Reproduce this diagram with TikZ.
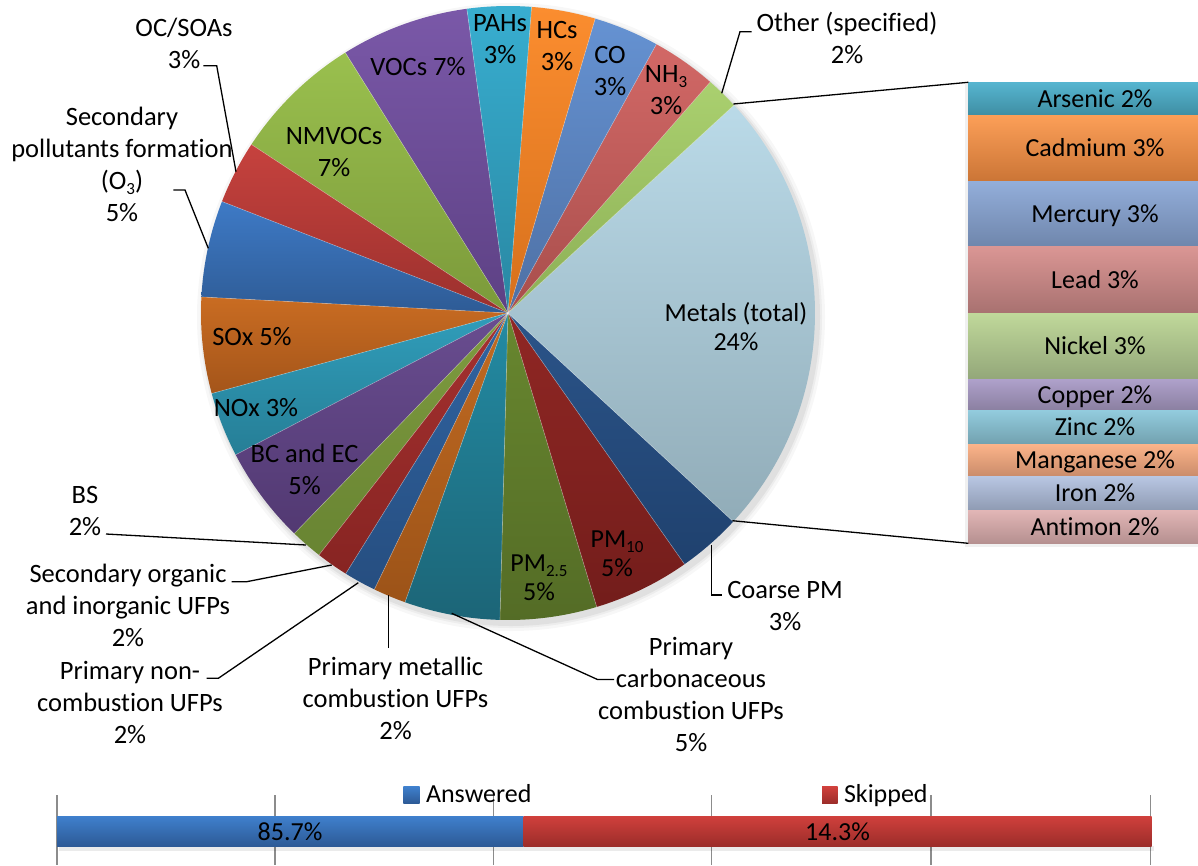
\documentclass[tikz,border=0pt]{standalone}
\usepackage{fontspec}
\setmainfont{Carlito}[Ligatures=NoCommon]
\usetikzlibrary{calc}
\newcommand\mysub[1]{\raisebox{-0.2em}{\fontsize{17}{17}\selectfont #1}}
\newcommand\pieslice[4]{%
  \shade[top color=#3,bottom color=#4] (C) -- ($(C)+(#1:307)$) arc[start angle=#1,end angle=#2,radius=307] -- cycle;}
\newcommand\metseg[6]{%
  \shade[top color=#3,bottom color=#4] (968,#1) rectangle (1198,#2);
  \node[metal] (#6) at (1095,{(#1+#2)/2+8.5}) {#5};}
\definecolor{pahT}{HTML}{38AED0}\definecolor{pahB}{HTML}{2987A2}
\definecolor{hcT}{HTML}{FB8D2F}\definecolor{hcB}{HTML}{D6701C}
\definecolor{coT}{HTML}{6592D2}\definecolor{coB}{HTML}{4E70A4}
\definecolor{nhT}{HTML}{D26866}\definecolor{nhB}{HTML}{A84E4C}
\definecolor{otT}{HTML}{AAD06F}\definecolor{otB}{HTML}{8CAF55}
\definecolor{meT}{HTML}{BADAE8}\definecolor{meB}{HTML}{91ACB8}
\definecolor{cpT}{HTML}{2B5489}\definecolor{cpB}{HTML}{1F416E}
\definecolor{p10T}{HTML}{902724}\definecolor{p10B}{HTML}{731D1B}
\definecolor{p25T}{HTML}{68872F}\definecolor{p25B}{HTML}{546C26}
\definecolor{pcT}{HTML}{238BA3}\definecolor{pcB}{HTML}{1C6577}
\definecolor{pmT}{HTML}{C26B22}\definecolor{pmB}{HTML}{9C5318}
\definecolor{pnT}{HTML}{3064A2}\definecolor{pnB}{HTML}{264E80}
\definecolor{soT}{HTML}{A53130}\definecolor{soB}{HTML}{872422}
\definecolor{bsT}{HTML}{7F9C40}\definecolor{bsB}{HTML}{688432}
\definecolor{bcT}{HTML}{694D90}\definecolor{bcB}{HTML}{523972}
\definecolor{noT}{HTML}{309DBA}\definecolor{noB}{HTML}{267E96}
\definecolor{sxT}{HTML}{C96C22}\definecolor{sxB}{HTML}{A4551A}
\definecolor{spT}{HTML}{3E7AC6}\definecolor{spB}{HTML}{2E5B95}
\definecolor{ocT}{HTML}{C6423E}\definecolor{ocB}{HTML}{9B302D}
\definecolor{nmT}{HTML}{9AC04E}\definecolor{nmB}{HTML}{7B993A}
\definecolor{voT}{HTML}{7A58A8}\definecolor{voB}{HTML}{5D4184}
\definecolor{ansT}{HTML}{3F80CD}\definecolor{ansB}{HTML}{2D5A96}
\definecolor{skT}{HTML}{D0403C}\definecolor{skB}{HTML}{9C2D2A}
\definecolor{asT}{HTML}{56B5D0}\definecolor{asB}{HTML}{3F8EA3}
\definecolor{cdT}{HTML}{FC9F58}\definecolor{cdB}{HTML}{CB7536}
\definecolor{hgT}{HTML}{93AEDA}\definecolor{hgB}{HTML}{6F86AC}
\definecolor{pbT}{HTML}{DA9694}\definecolor{pbB}{HTML}{A87170}
\definecolor{niT}{HTML}{C0D89A}\definecolor{niB}{HTML}{93A779}
\definecolor{cuT}{HTML}{AFA1CB}\definecolor{cuB}{HTML}{8A7FA0}
\definecolor{znT}{HTML}{92CBDD}\definecolor{znB}{HTML}{72A1AF}
\definecolor{mnT}{HTML}{FCB48A}\definecolor{mnB}{HTML}{C98B6A}
\definecolor{feT}{HTML}{B8C6E2}\definecolor{feB}{HTML}{8F9BB3}
\definecolor{sbT}{HTML}{E2B6B6}\definecolor{sbB}{HTML}{B59090}
\begin{document}
\begin{tikzpicture}[x=1pt,y=-1pt,
  every node/.style={inner sep=0pt,outer sep=0pt},
  lbl/.style={align=center,anchor=base,font=\fontsize{26.5}{32}\selectfont},
  lblt/.style={align=center,anchor=base,font=\fontsize{26}{29}\selectfont},
  leader/.style={line width=1.3pt,black},
  metal/.style={anchor=base,font=\fontsize{26}{32}\selectfont},
  gridline/.style={draw=black!45,line width=1.2pt},
  sep/.style={white,opacity=0.35,line width=0.6pt},
  barlbl/.style={anchor=base,font=\fontsize{26}{32}\selectfont}]
\useasboundingbox (0,0) rectangle (1198,865);
\fill[white] (0,0) rectangle (1198,865);
\coordinate (C) at (508,313);
% shadow
\foreach \r/\o in {314/0.03,311/0.04,309/0.05}{\fill[black,opacity=\o] ($(C)+(3,4)$) circle[radius=\r];}
% slices (screen angles, clockwise)
\pieslice{262.3}{238.0}{voT}{voB}
\pieslice{238.0}{213.3}{nmT}{nmB}
\pieslice{213.3}{201.3}{ocT}{ocB}
\pieslice{201.3}{183.0}{spT}{spB}
\pieslice{183.0}{164.8}{sxT}{sxB}
\pieslice{164.8}{152.5}{noT}{noB}
\pieslice{152.5}{134.1}{bcT}{bcB}
\pieslice{134.1}{128.0}{bsT}{bsB}
\pieslice{128.0}{121.9}{soT}{soB}
\pieslice{121.9}{115.8}{pnT}{pnB}
\pieslice{115.8}{109.6}{pmT}{pmB}
\pieslice{109.6}{91.5}{pcT}{pcB}
\pieslice{91.5}{73.2}{p25T}{p25B}
\pieslice{73.2}{54.9}{p10T}{p10B}
\pieslice{54.9}{42.8}{cpT}{cpB}
\pieslice{42.8}{-42.6}{meT}{meB}
\pieslice{-42.6}{-48.8}{otT}{otB}
\pieslice{-48.8}{-61.1}{nhT}{nhB}
\pieslice{-61.1}{-73.5}{coT}{coB}
\pieslice{-73.5}{-85.6}{hcT}{hcB}
\pieslice{-85.6}{-97.7}{pahT}{pahB}
\foreach \s in {262.3,238.0,213.3,201.3,183.0,164.8,152.5,134.1,128.0,121.9,115.8,109.6,91.5,73.2,54.9,42.8,-42.6,-48.8,-61.1,-73.5,-85.6}
  {\draw[sep] (C) -- ($(C)+(\s:307)$);}
% inside labels (anchor = baseline of last line)
\node[lbl] (lPAH) at (500,63) {PAHs\\3\%};
\node[lbl] (lHC) at (557,70) {HCs\\3\%};
\node[lbl] (lCO) at (610,95) {CO\\3\%};
\node[lbl] (lNH) at (666,114) {NH\mysub{3}\\3\%};
\node[lbl] (lVOC) at (418,75) {VOCs 7\%};
\node[lbl] (lNMV) at (334,176) {NMVOCs\\7\%};
\node[lbl] (lSOx) at (252,345) {SOx 5\%};
\node[lbl] (lNOx) at (256,416) {NOx 3\%};
\node[lbl] (lBC) at (304.5,494.7) {BC and EC\\5\%};
\node[lblt] (lMet) at (736,350) {Metals (total)\\24\%};
\node[lblt] (lP10) at (617,576.7) {PM\mysub{10}\\5\%};
\node[lblt] (lP25) at (539,600) {PM\mysub{2.5}\\5\%};
% outside labels
\node[lbl] (lOC) at (184,68) {OC/SOAs\\3\%};
\node[lbl] (lSP) at (122,221) {Secondary\\pollutants formation\\(O\mysub{3})\\5\%};
\node[lbl] (lBS) at (85,535) {BS\\2\%};
\node[lbl] (lSO) at (128,646.3) {Secondary organic\\and inorganic UFPs\\2\%};
\node[lbl] (lPN) at (130,743) {Primary non-\\combustion UFPs\\2\%};
\node[lbl] (lPM) at (395.5,739.7) {Primary metallic\\combustion UFPs\\2\%};
\node[lbl] (lPC) at (691,751.3) {Primary\\carbonaceous\\combustion UFPs\\5\%};
\node[lbl] (lCP) at (785,630.7) {Coarse PM\\3\%};
\node[lbl] (lOt) at (847,63) {Other (specified)\\2\%};
% leader coordinates
\coordinate (kOC) at (203.3,65.7); \coordinate (jOC) at (216.7,65.7); \coordinate (eOC) at (236,171.7);
\coordinate (kSP) at (173.3,190); \coordinate (jSP) at (185,190); \coordinate (eSP) at (208.3,248.3);
\coordinate (kBS) at (106,534); \coordinate (eBS) at (306,545);
\coordinate (kSO) at (231.7,581.7); \coordinate (jSO) at (246.7,581.7); \coordinate (eSO) at (331.7,565);
\coordinate (kPN) at (206.7,678.3); \coordinate (jPN) at (218.3,678.3); \coordinate (ePN) at (358.3,582.7);
\coordinate (kPM) at (388.3,648); \coordinate (ePM) at (388.3,595);
\coordinate (kPC) at (614,679.5); \coordinate (jPC) at (597.5,679.5); \coordinate (ePC) at (451.7,613.3);
\coordinate (kCP) at (721.7,595); \coordinate (jCP) at (711.7,595); \coordinate (eCP) at (711.7,545);
\coordinate (kOt) at (751.7,31.7); \coordinate (jOt) at (740,31.7); \coordinate (eOt) at (721.7,93.3);
\draw[leader] (kOC) -- (jOC) -- (eOC);
\draw[leader] (kSP) -- (jSP) -- (eSP);
\draw[leader] (kBS) -- (eBS);
\draw[leader] (kSO) -- (jSO) -- (eSO);
\draw[leader] (kPN) -- (jPN) -- (ePN);
\draw[leader] (kPM) -- (ePM);
\draw[leader] (kPC) -- (jPC) -- (ePC);
\draw[leader] (kCP) -- (jCP) -- (eCP);
\draw[leader] (kOt) -- (jOt) -- (eOt);
% metals breakdown bar
\fill[black,opacity=0.06] (965,84) rectangle (1198,547);
\metseg{82.3}{115}{asT}{asB}{Arsenic 2\%}{mAs}
\metseg{115}{181}{cdT}{cdB}{Cadmium 3\%}{mCd}
\metseg{181}{246.7}{hgT}{hgB}{Mercury 3\%}{mHg}
\metseg{246.7}{313.3}{pbT}{pbB}{Lead 3\%}{mPb}
\metseg{313.3}{379}{niT}{niB}{Nickel 3\%}{mNi}
\metseg{379}{410.7}{cuT}{cuB}{Copper 2\%}{mCu}
\metseg{410.7}{444}{znT}{znB}{Zinc 2\%}{mZn}
\metseg{444}{476.7}{mnT}{mnB}{Manganese 2\%}{mMn}
\metseg{476.7}{510}{feT}{feB}{Iron 2\%}{mFe}
\metseg{510}{543.3}{sbT}{sbB}{Antimon 2\%}{mSb}
\coordinate (cT) at (733.3,104); \coordinate (bT) at (968.3,82.3);
\coordinate (cB) at (732.3,520.7); \coordinate (bB) at (968.3,543.3);
\draw[leader] (cT) -- (bT);
\draw[leader] (cB) -- (bB);
% bottom bar chart
\foreach \gx in {57,275,493.5,711.5,931,1150.5}{\draw[gridline] (\gx,795) -- (\gx,865);}
\fill[black,opacity=0.08] (59,846) rectangle (1154,851);
\shade[top color=ansT,bottom color=ansB] (57,816) rectangle (523.7,846);
\shade[top color=skT,bottom color=skB] (523.7,816) rectangle (1151.7,846);
\node[barlbl] (vAns) at (290,840) {85.7\%};
\node[barlbl] (vSk) at (837.5,840) {14.3\%};
\shade[top color=ansT,bottom color=ansB] (403.4,786.7) rectangle (419.5,803.3);
\node[barlbl,anchor=base west] (gAns) at (426,802.7) {Answered};
\shade[top color=skT,bottom color=skB] (822,786.7) rectangle (837.5,803.3);
\node[barlbl,anchor=base west] (gSk) at (844,802.7) {Skipped};
\end{tikzpicture}
\end{document}
